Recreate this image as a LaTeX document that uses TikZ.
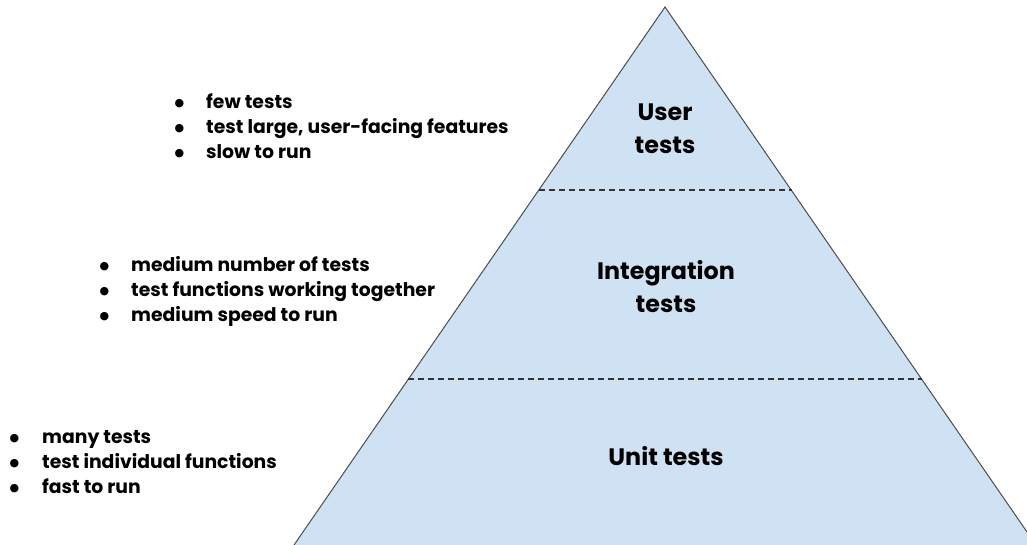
\documentclass[tikz,border=0pt]{standalone}
\usepackage{fontspec}
\setmainfont{Poppins}
\newfontfamily\dejavu{DejaVu Sans}
\newcommand{\blt}[1]{\makebox[#1][l]{\hspace{-0.5pt}\raisebox{2pt}{\dejavu\fontsize{11}{11}\selectfont ●}}}
\begin{document}
\begin{tikzpicture}[x=1pt,y=-1pt,
  bigtext/.style={font=\bfseries\fontsize{23.8}{33}\selectfont, align=center, text=black},
  listtext/.style={font=\bfseries\fontsize{18.8}{25}\selectfont, align=left, anchor=west, inner sep=0pt, text=black},
  sep/.style={draw=black!80, dashed, line width=1.2pt, dash pattern=on 6pt off 4pt}]
\useasboundingbox (0,0) rectangle (1027,545);
\coordinate (apex) at (665,7);
\coordinate (bl) at (294,545);
\coordinate (br) at (1036,545);
\begin{scope}
\clip (0,0) rectangle (1027,545);
\fill[fill={rgb,255:red,207;green,226;blue,243}] (apex) -- (bl) -- (br) -- cycle;
\draw[draw=black!70, line width=1pt] (bl) -- (apex) -- (br);
\end{scope}
\coordinate (d1l) at (539,190);
\coordinate (d1r) at (792,190);
\coordinate (d2l) at (408,379);
\coordinate (d2r) at (922,379);
\draw[sep] (d1l) -- (d1r);
\draw[sep] (d2l) -- (d2r);
\node[bigtext] (t1) at (665,129) {User\\tests};
\node[bigtext] (t2) at (666,287) {Integration\\tests};
\node[bigtext] (t3) at (666,456) {Unit tests};
\node[listtext] (l1) at (175,126) {\blt{31pt}few tests\\\blt{31pt}test large, user-facing features\\\blt{31pt}slow to run};
\node[listtext] (l2) at (100,291) {\blt{31pt}medium number of tests\\\blt{31pt}test functions working together\\\blt{31pt}medium speed to run};
\node[listtext] (l3) at (10,462) {\blt{32pt}many tests\\\blt{32pt}test individual functions\\\blt{32pt}fast to run};
\end{tikzpicture}
\end{document}
